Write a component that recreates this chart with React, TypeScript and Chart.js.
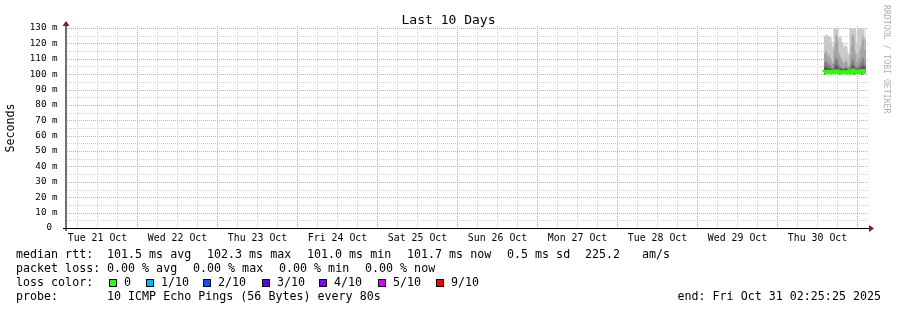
import React, { useEffect, useRef } from 'react';
import { Chart, registerables } from 'chart.js';

Chart.register(...registerables);

// ---- text ----
const titleText = 'Last 10 Days';
const yAxisTitle = 'Seconds';
const watermark = 'RRDTOOL / TOBI OETIKER';
const dayLabels = ['Tue 21 Oct', 'Wed 22 Oct', 'Thu 23 Oct', 'Fri 24 Oct', 'Sat 25 Oct', 'Sun 26 Oct', 'Mon 27 Oct', 'Tue 28 Oct', 'Wed 29 Oct', 'Thu 30 Oct'];
const yTicks = [0, 10, 20, 30, 40, 50, 60, 70, 80, 90, 100, 110, 120, 130];
const yMinorTicks = [5, 15, 25, 35, 45, 55, 65, 75, 85, 95, 105, 115, 125];

// ---- time axis (hours from graph start) ----
const graphHours = 240;
const firstMidnight = -2.55; // Tue 21 Oct 00:00 relative to graph start
const gridStepHours = 6;
const sampleStart = 227.4;
const sampleStep = 0.3; // 18 min per consolidated sample

// ---- RTT data (ms) ----
const pingMin = [99.6, 100.7, 100.8, 100.7, 100.6, 100.7, 100.7, 100.6, 100.5, 100.5, 100.7, 100.8, 100.9, 100.9, 100.8, 100.7, 99.7, 100.6, 100.5, 100.5, 100.5, 100.6, 100.7, 100.6, 100.3, 100.4, 100.6, 100.7, 100.9, 101.2, 99.8, 100.8, 100.7, 100.5, 100.8, 100.7, 100.9, 100.9, 99.7, 101.2, 101, 100.8, 100.9];
const smokeOuter = [125, 125, 126, 126, 125, 125, 124, 124, 121, 118, 130, 130, 130, 130, 130, 124, 124, 125, 121, 120, 118, 118, 119, 118, 114, 113, 130, 130, 129, 130, 130, 130, 129, 120, 130, 130, 130, 130, 129, 130, 130, 124, 130];
const smokeBand2 = [113, 114, 115, 114, 112, 113, 111, 110, 108, 107, 116, 120, 126, 125, 121, 114, 112, 111, 109, 108, 107, 108, 110, 108, 106, 105, 112, 118, 125, 126, 123, 116, 113, 108, 114, 111, 116, 118, 122, 125, 123, 116, 122];
const smokeBand3 = [107, 108, 109, 108, 106, 107, 106, 105, 104, 103.5, 107, 109, 111, 110, 108, 106, 105, 105, 104, 103.5, 103.5, 104, 105, 104, 103, 103, 105, 107, 109, 110, 108, 106, 105, 103.5, 106, 105, 107, 108, 110, 111, 109, 106, 109];
const smokeBand4 = [104, 104.5, 105, 104.5, 103.5, 104, 103.5, 103, 103, 103, 104, 105, 106, 105.5, 104.5, 103.5, 103.5, 103.5, 103, 103, 103, 103.5, 104, 103.5, 102.5, 102.5, 103.5, 104, 105.5, 106, 104.5, 104, 103.5, 103, 104, 103.5, 104, 104.5, 105.5, 106, 105, 104, 104.5];
const smokeInner = [102.6, 102.8, 103, 102.8, 102.5, 102.6, 102.5, 102.3, 102.2, 102.2, 102.6, 103, 103.4, 103.2, 102.8, 102.5, 102.4, 102.4, 102.2, 102.2, 102.2, 102.4, 102.6, 102.4, 102, 102, 102.4, 102.8, 103.4, 103.6, 103, 102.6, 102.4, 102.2, 102.6, 102.4, 102.8, 103, 103.4, 103.6, 103.2, 102.6, 103];
const medianRtt = [101.4, 101.5, 101.6, 101.5, 101.3, 101.4, 101.4, 101.3, 101.2, 101.2, 101.5, 101.7, 101.9, 101.8, 101.6, 101.4, 101.3, 101.3, 101.2, 101.2, 101.2, 101.3, 101.4, 101.3, 101.0, 101.1, 101.3, 101.5, 101.8, 102.3, 101.7, 101.5, 101.4, 101.2, 101.5, 101.4, 101.6, 101.7, 101.9, 102.1, 101.8, 101.5, 101.7];

const smokeColors = ['#cacaca', '#a4a4a4', '#7e7e7e', '#585858', '#323232'];
const medianColor = '#26ff00';

// ---- legend ----
const rttLabels = ['avg', 'max', 'min', 'now'];
const rttValues = [101.5, 102.3, 101.0, 101.7];
const rttSd = 0.5;
const rttAmps = 225.2;
const lossStatLabels = ['avg', 'max', 'min', 'now'];
const lossValues = [0, 0, 0, 0];
const lossLabels = ['0', '1/10', '2/10', '3/10', '4/10', '5/10', '9/10'];
const lossColors = ['#26ff00', '#00b8ff', '#0059ff', '#5e00ff', '#7e00ff', '#dd00ff', '#ff0000'];
const probeText = '10 ICMP Echo Pings (56 Bytes) every 80s';
const endText = 'end: Fri Oct 31 02:25:25 2025';

const MONO = '"DejaVu Sans Mono", monospace';
const MAJOR = '#eba0a0';
const MINOR = '#cfcfcf';

const xTickValues: number[] = [];
for (let k = 0; firstMidnight + k * gridStepHours <= graphHours; k++) {
  const v = firstMidnight + k * gridStepHours;
  if (v >= 0) xTickValues.push(v);
}
const tickIndex = (v: number) => Math.round((v - firstMidnight) / gridStepHours);

const pts = (vals: number[]) => vals.map((v, k) => ({ x: sampleStart + k * sampleStep, y: v }));

const decor = {
  id: 'rrdDecor',
  beforeDatasetsDraw(chart: any) {
    const { ctx, chartArea: a, scales } = chart;
    const x = scales.x, y = scales.y;
    ctx.save();
    ctx.lineWidth = 1;
    ctx.setLineDash([1, 1]);
    const hLine = (v: number, c: string) => {
      const py = Math.round(y.getPixelForValue(v)) + 0.5;
      ctx.strokeStyle = c;
      ctx.beginPath(); ctx.moveTo(a.left + 1, py); ctx.lineTo(a.right + 2, py); ctx.stroke();
    };
    const vLine = (v: number, c: string) => {
      const px = Math.floor(x.getPixelForValue(v)) + 0.5;
      ctx.strokeStyle = c;
      ctx.beginPath(); ctx.moveTo(px, a.top - 2); ctx.lineTo(px, a.bottom); ctx.stroke();
    };
    yMinorTicks.forEach((v) => hLine(v, MINOR));
    x.ticks.forEach((t: any) => { if (tickIndex(t.value) % 4 !== 0) vLine(t.value, MINOR); });
    yTicks.forEach((v) => { if (v > 0) hLine(v, MAJOR); });
    x.ticks.forEach((t: any) => { if (tickIndex(t.value) % 4 === 0) vLine(t.value, MAJOR); });
    ctx.restore();
  },
  afterDatasetsDraw(chart: any) {
    const { ctx, chartArea: a } = chart;
    ctx.save();
    ctx.fillStyle = '#707070';
    ctx.fillRect(a.left - 1, a.top - 6, 2, a.bottom - a.top + 9);
    ctx.fillStyle = '#000000';
    ctx.fillRect(a.left - 3, a.bottom, a.right - a.left + 6, 1);
    ctx.fillStyle = '#8b1a1a';
    ctx.beginPath();
    ctx.moveTo(a.left, a.top - 7); ctx.lineTo(a.left + 3.5, a.top - 2); ctx.lineTo(a.left - 3.5, a.top - 2); ctx.closePath(); ctx.fill();
    ctx.beginPath();
    ctx.moveTo(a.right + 8, a.bottom + 0.5); ctx.lineTo(a.right + 3, a.bottom - 3); ctx.lineTo(a.right + 3, a.bottom + 4); ctx.closePath(); ctx.fill();
    ctx.restore();
  },
  afterDraw(chart: any) {
    const { ctx, chartArea: a } = chart;
    ctx.save();
    ctx.fillStyle = '#000';
    ctx.textBaseline = 'alphabetic';
    // title
    ctx.font = `13px ${MONO}`;
    ctx.textAlign = 'center';
    ctx.fillText(titleText, chart.width / 2, 24);
    // y title
    ctx.save();
    ctx.font = `11.66px ${MONO}`;
    ctx.translate(11, (a.top + a.bottom) / 2);
    ctx.rotate(-Math.PI / 2);
    ctx.textBaseline = 'middle';
    ctx.fillText(yAxisTitle, 0, 0);
    ctx.restore();
    // watermark
    ctx.save();
    ctx.font = `8.2px ${MONO}`;
    ctx.fillStyle = '#b0b0b0';
    ctx.translate(886, 5);
    ctx.rotate(Math.PI / 2);
    ctx.textAlign = 'left';
    ctx.textBaseline = 'middle';
    ctx.fillText(watermark, 0, 0);
    ctx.restore();
    // legend
    ctx.font = `11.66px ${MONO}`;
    ctx.textAlign = 'left';
    const l1 = 258, l2 = 272, l3 = 286, l4 = 300;
    ctx.fillText('median rtt:', 16, l1);
    const rttX = [107, 207, 307, 407];
    rttValues.forEach((v, i) => ctx.fillText(`${v.toFixed(1)} ms ${rttLabels[i]}`, rttX[i], l1));
    ctx.fillText(`${rttSd.toFixed(1)} ms sd`, 507, l1);
    ctx.fillText(rttAmps.toFixed(1), 585, l1);
    ctx.fillText('am/s', 642, l1);
    ctx.fillText('packet loss:', 16, l2);
    const lossX = [107, 193, 279, 365];
    lossValues.forEach((v, i) => ctx.fillText(`${v.toFixed(2)} % ${lossStatLabels[i]}`, lossX[i], l2));
    ctx.fillText('loss color:', 16, l3);
    const boxX = [109, 146, 203, 262, 319, 378, 436];
    lossLabels.forEach((lab, i) => {
      ctx.fillStyle = '#000';
      ctx.fillRect(boxX[i], l3 - 7, 8, 8);
      ctx.fillStyle = lossColors[i];
      ctx.fillRect(boxX[i] + 1, l3 - 6, 6, 6);
      ctx.fillStyle = '#000';
      ctx.fillText(lab, boxX[i] + 15, l3);
    });
    ctx.fillText('probe:', 16, l4);
    ctx.fillText(probeText, 107, l4);
    ctx.textAlign = 'right';
    ctx.fillText(endText, 881, l4);
    ctx.restore();
  },
};

export default function App() {
  const ref = useRef<HTMLCanvasElement>(null);
  useEffect(() => {
    document.body.style.margin = '0';
    const canvas = ref.current;
    if (!canvas) return;
    const bands = [smokeOuter, smokeBand2, smokeBand3, smokeBand4, smokeInner];
    const datasets: any[] = [
      { label: 'min', data: pts(pingMin), borderWidth: 0, borderColor: 'transparent', pointRadius: 0, fill: false, stepped: 'middle', order: 10 },
      ...bands.map((b, i) => ({
        label: `smoke${i}`,
        data: pts(b),
        borderWidth: 0,
        borderColor: 'transparent',
        backgroundColor: smokeColors[i],
        pointRadius: 0,
        fill: 0,
        stepped: 'middle',
        order: 6 - i,
      })),
      { label: 'median', data: pts(medianRtt), borderColor: medianColor, borderWidth: 4, pointRadius: 0, fill: false, stepped: 'middle', borderCapStyle: 'butt', order: 0 },
    ];
    const chart = new Chart(canvas, {
      type: 'line',
      data: { datasets },
      options: {
        animation: false,
        responsive: false,
        devicePixelRatio: 1,
        events: [],
        layout: { padding: { left: 0, right: 31, top: 28, bottom: 62 } },
        plugins: { legend: { display: false }, tooltip: { enabled: false }, title: { display: false } },
        scales: {
          x: {
            type: 'linear',
            min: 0,
            max: graphHours,
            grid: { display: false, drawTicks: false },
            border: { display: false },
            afterBuildTicks: (s: any) => { s.ticks = xTickValues.map((v) => ({ value: v })); },
            afterFit: (s: any) => { s.height = 20; },
            ticks: {
              autoSkip: false,
              maxRotation: 0,
              padding: 4,
              color: '#000',
              font: { family: MONO, size: 9.9 },
              callback: (v: any) => {
                const k = tickIndex(Number(v));
                return k % 4 === 2 ? dayLabels[Math.floor(k / 4)] || '' : '';
              },
            },
          },
          y: {
            type: 'linear',
            min: 0,
            max: 130,
            grid: { display: false, drawTicks: false },
            border: { display: false },
            afterBuildTicks: (s: any) => { s.ticks = yTicks.map((v) => ({ value: v })); },
            afterFit: (s: any) => { s.width = 66; },
            ticks: {
              autoSkip: false,
              padding: 8.5,
              color: '#000',
              font: { family: MONO, size: 9.2 },
              callback: (v: any) => (Number(v) === 0 ? '0 ' : `${v} m`),
            },
          },
        },
      },
      plugins: [decor],
    } as any);
    return () => chart.destroy();
  }, []);
  return (
    <div style={{ position: 'absolute', left: 0, top: 0, width: 897, height: 310, background: '#fff' }}>
      <canvas ref={ref} width={897} height={310} style={{ display: 'block' }} />
    </div>
  );
}
